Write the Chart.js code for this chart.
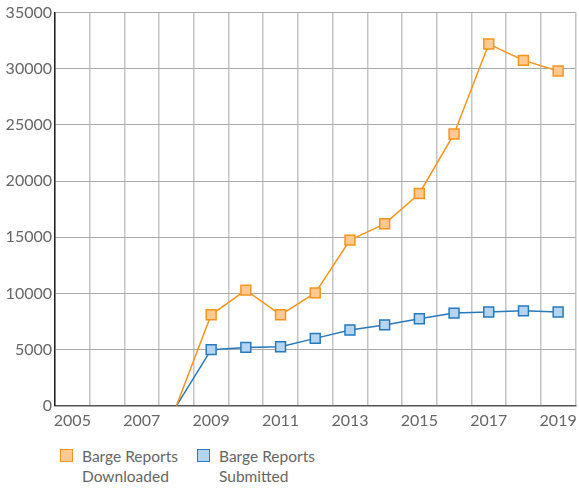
<!DOCTYPE html>
<html>
<head>
<meta charset="utf-8">
<script src="https://cdn.jsdelivr.net/npm/chart.js@4/dist/chart.umd.min.js"></script>
<style>
  html, body { margin: 0; padding: 0; background: #fff; overflow: hidden; }
  #wrap { width: 584px; height: 435px; position: relative; }
  #legend { display: flex; margin-left: 60px; margin-top: 11px; font-family: Lato, "Noto Sans", sans-serif; font-size: 15.5px; color: #666; line-height: 20px; }
  .item { display: flex; align-items: flex-start; width: 137px; }
  .box { width: 11px; height: 11px; border: 1.5px solid; margin-top: 3px; margin-right: 9px; flex: none; }
</style>
</head>
<body>
<div id="wrap"><canvas id="chart"></canvas></div>
<div id="legend"></div>
<script>
// years on the x axis
const years = ['2005', '2006', '2007', '2008', '2009', '2010', '2011', '2012',
               '2013', '2014', '2015', '2016', '2017', '2018', '2019'];

// series values (null = no data yet)
const downloaded = [null, null, null, 0, 8100, 10300, 8100, 10050, 14750, 16200, 18900, 24200, 32200, 30750, 29800];
const submitted  = [null, null, null, 0, 5000, 5200, 5250, 6000, 6750, 7200, 7750, 8250, 8350, 8450, 8350];

const seriesNames = [['Barge Reports', 'Downloaded'], ['Barge Reports', 'Submitted']];

const orange = { line: '#f7941d', fill: '#ffc993' };
const blue = { line: '#2878bd', fill: '#b5d4f0' };

// hide the marker on the 0 start point
const radius = ctx => (ctx.raw === 0 ? 0 : 7);

const chart = new Chart(document.getElementById('chart'), {
  type: 'line',
  data: {
    labels: years,
    datasets: [
      {
        label: seriesNames[0].join(' '),
        data: downloaded,
        borderColor: orange.line,
        backgroundColor: orange.fill,
        borderWidth: 1.5,
        pointStyle: 'rect',
        pointRadius: radius,
        pointBorderWidth: 1.5,
        tension: 0
      },
      {
        label: seriesNames[1].join(' '),
        data: submitted,
        borderColor: blue.line,
        backgroundColor: blue.fill,
        borderWidth: 1.5,
        pointStyle: 'rect',
        pointRadius: radius,
        pointBorderWidth: 1.5,
        tension: 0
      }
    ]
  },
  options: {
    responsive: true,
    maintainAspectRatio: false,
    animation: false,
    layout: { padding: { top: 12, right: 3, left: 0, bottom: 0 } },
    plugins: {
      legend: { display: false },
      tooltip: { enabled: false }
    },
    scales: {
      x: {
        offset: true,
        grid: { offset: true, color: '#c4c4c4', lineWidth: 1.5, drawTicks: false },
        border: { color: '#555', width: 1.5 },
        ticks: {
          autoSkip: false,
          maxRotation: 0,
          color: '#666',
          padding: 5,
          font: { family: 'Lato, "Noto Sans", sans-serif', size: 16 },
          callback: (v, i) => (i % 2 === 0 ? years[i] : '')
        }
      },
      y: {
        min: 0,
        max: 35000,
        afterFit: s => { s.width = 55; },
        grid: { color: '#aaa', lineWidth: 1, drawTicks: false },
        border: { color: '#222', width: 1.5 },
        ticks: {
          stepSize: 5000,
          color: '#666',
          padding: 3,
          font: { family: 'Lato, "Noto Sans", sans-serif', size: 16 },
          callback: v => String(v)
        }
      }
    }
  }
});

// two-line legend below the chart
const legend = document.getElementById('legend');
[orange, blue].forEach((c, i) => {
  const item = document.createElement('div');
  item.className = 'item';
  const box = document.createElement('div');
  box.className = 'box';
  box.style.borderColor = c.line;
  box.style.background = c.fill;
  const txt = document.createElement('div');
  txt.innerHTML = seriesNames[i].join('<br>');
  item.appendChild(box);
  item.appendChild(txt);
  legend.appendChild(item);
});
</script>
</body>
</html>
